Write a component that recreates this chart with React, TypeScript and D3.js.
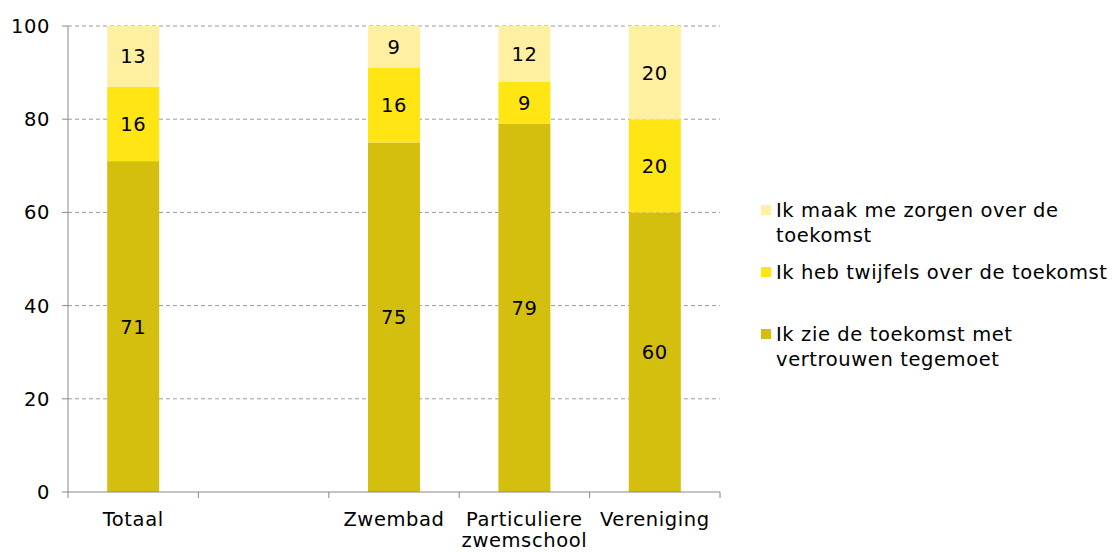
import React, { useRef, useEffect } from 'react';
import * as d3 from 'd3';

// categorieën (tweede is een lege kolom)
const categories = ['Totaal', '', 'Zwembad', 'Particuliere zwemschool', 'Vereniging'];
const categoryLines = [['Totaal'], [], ['Zwembad'], ['Particuliere', 'zwemschool'], ['Vereniging']];

const vertrouwen = [71, null, 75, 79, 60];
const twijfels = [16, null, 16, 9, 20];
const zorgen = [13, null, 9, 12, 20];

const seriesNames = [
  'Ik zie de toekomst met vertrouwen tegemoet',
  'Ik heb twijfels over de toekomst',
  'Ik maak me zorgen over de toekomst',
];
const legendLines = [
  ['Ik maak me zorgen over de', 'toekomst'],
  ['Ik heb twijfels over de toekomst'],
  ['Ik zie de toekomst met', 'vertrouwen tegemoet'],
];
const colors = ['#D4BF0F', '#FFE514', '#FFEFA1'];
const yTicks = [0, 20, 40, 60, 80, 100];

const W = 1112;
const H = 552;
const FONT = 'DejaVu Sans, sans-serif';
const FS = 19.5;
const LS = 0.6;

const App = () => {
  const svgRef = useRef<SVGSVGElement>(null);

  useEffect(() => {
    const svg = d3.select(svgRef.current);
    svg.selectAll('*').remove();

    const left = 68, right = 720, top = 26, bottom = 492;

    const x = d3.scaleBand().domain(categories.map((c, i) => String(i))).range([left, right]).paddingInner(0).paddingOuter(0);
    const y = d3.scaleLinear().domain([0, 100]).range([bottom, top]);
    const barW = 52;

    const txt = (sel: any) => sel
      .attr('font-family', FONT)
      .attr('font-size', FS)
      .attr('letter-spacing', LS)
      .attr('fill', '#000');

    // gridlines
    svg.append('g')
      .selectAll('line')
      .data(yTicks.filter(t => t > 0))
      .join('line')
      .attr('x1', left).attr('x2', right)
      .attr('y1', d => y(d)).attr('y2', d => y(d))
      .attr('stroke', '#9a9a9a')
      .attr('stroke-dasharray', '4,3');

    // stacked data
    const table = categories.map((c, i) => ({ key: String(i), v0: vertrouwen[i], v1: twijfels[i], v2: zorgen[i] }));
    const stack = d3.stack<any>().keys(['v0', 'v1', 'v2']).value((d, k) => d[k] ?? 0)(table);

    stack.forEach((layer, li) => {
      const g = svg.append('g');
      layer.forEach((seg, i) => {
        const val = seg.data[`v${li}`];
        if (val == null) return;
        const cx = x(String(i))! + x.bandwidth() / 2;
        g.append('rect')
          .attr('x', cx - barW / 2)
          .attr('width', barW)
          .attr('y', y(seg[1]))
          .attr('height', y(seg[0]) - y(seg[1]))
          .attr('fill', colors[li]);
        g.append('text')
          .attr('x', cx)
          .attr('y', (y(seg[0]) + y(seg[1])) / 2)
          .attr('dy', '0.36em')
          .attr('text-anchor', 'middle')
          .call(txt)
          .text(val);
      });
    });

    // y axis
    const yAxis = svg.append('g');
    yAxis.append('line').attr('x1', left).attr('x2', left).attr('y1', top).attr('y2', bottom).attr('stroke', '#888');
    yAxis.selectAll('line.tick').data(yTicks).join('line').attr('class', 'tick')
      .attr('x1', left - 6).attr('x2', left).attr('y1', d => y(d)).attr('y2', d => y(d)).attr('stroke', '#888');
    yAxis.selectAll('text').data(yTicks).join('text')
      .attr('x', 50).attr('y', d => y(d)).attr('dy', '0.36em')
      .attr('text-anchor', 'end')
      .call(txt)
      .text(d => d);

    // x axis
    const xAxis = svg.append('g');
    xAxis.append('line').attr('x1', left).attr('x2', right).attr('y1', bottom).attr('y2', bottom).attr('stroke', '#888');
    const bounds = categories.map((c, i) => x(String(i))!).concat([right]);
    xAxis.selectAll('line.tick').data(bounds).join('line').attr('class', 'tick')
      .attr('x1', d => d).attr('x2', d => d).attr('y1', bottom).attr('y2', bottom + 6).attr('stroke', '#888');
    categoryLines.forEach((lines, i) => {
      const cx = x(String(i))! + x.bandwidth() / 2;
      lines.forEach((ln, j) => {
        xAxis.append('text')
          .attr('x', cx).attr('y', 526 + j * 21)
          .attr('text-anchor', 'middle')
          .call(txt)
          .text(ln);
      });
    });

    // legend
    const legendY = [210, 272, 334];
    const leg = svg.append('g');
    legendLines.forEach((lines, i) => {
      const ci = 2 - i;
      leg.append('rect')
        .attr('x', 761).attr('y', legendY[i] - 5).attr('width', 10).attr('height', 10)
        .attr('fill', colors[ci]);
      lines.forEach((ln, j) => {
        leg.append('text')
          .attr('x', 776).attr('y', legendY[i] + j * 25).attr('dy', '0.36em')
          .call(txt)
          .text(ln);
      });
    });
  }, []);

  return (
    <div style={{ position: 'absolute', left: 0, top: 0 }}>
      <svg ref={svgRef} width={W} height={H} style={{ display: 'block' }} aria-label={seriesNames.join(', ')} />
    </div>
  );
};

export default App;
